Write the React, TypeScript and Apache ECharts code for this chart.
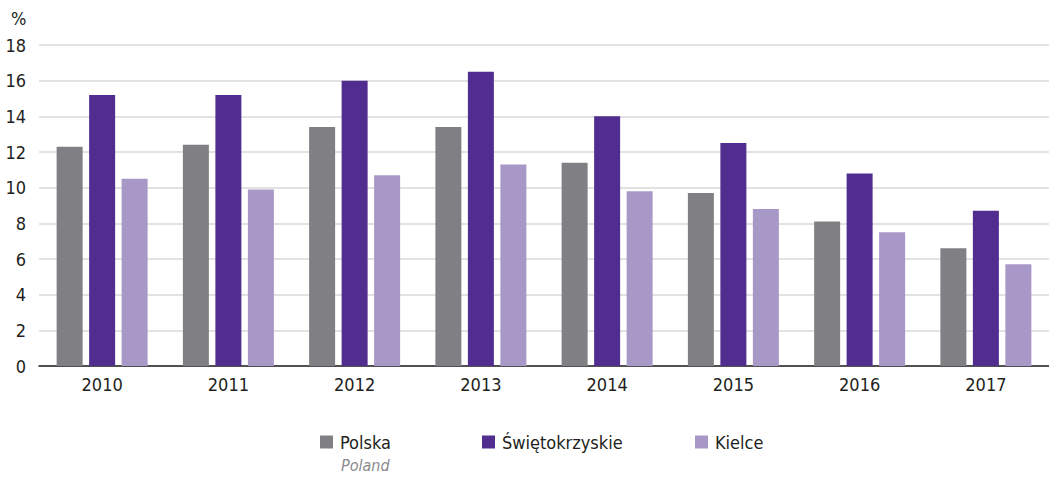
import React, { useEffect, useRef } from "react";
import * as echarts from "echarts";

const years = ["2010", "2011", "2012", "2013", "2014", "2015", "2016", "2017"];
const polska = [12.3, 12.4, 13.4, 13.4, 11.4, 9.7, 8.1, 6.6];
const swietokrzyskie = [15.2, 15.2, 16.0, 16.5, 14.0, 12.5, 10.8, 8.7];
const kielce = [10.5, 9.9, 10.7, 11.3, 9.8, 8.8, 7.5, 5.7];

const FONT = "'Liberation Sans Narrow', 'DejaVu Sans Condensed', 'Open Sans', sans-serif";
const C_POL = "#808084";
const C_SWI = "#512d8f";
const C_KIE = "#a898c8";

export default function App() {
  const ref = useRef<HTMLDivElement>(null);
  useEffect(() => {
    document.body.style.margin = "0";
    const chart = echarts.init(ref.current!, null, { renderer: "svg" });
    const legendBase = {
      top: 433,
      itemWidth: 13,
      itemHeight: 13,
      icon: "rect",
      textStyle: { fontFamily: FONT, fontSize: 18, color: "#231f20", padding: [0, 0, 0, 2] },
      padding: 0,
      selectedMode: false,
    };
    chart.setOption({
      animation: false,
      textStyle: { fontFamily: FONT },
      grid: { left: 39, right: 0, top: 45, bottom: 112, containLabel: false },
      xAxis: {
        type: "category",
        data: years,
        axisLine: { lineStyle: { color: "#231f20", width: 1.5 } },
        axisTick: { show: false },
        axisLabel: { fontFamily: FONT, fontSize: 18, color: "#231f20", margin: 9 },
      },
      yAxis: {
        type: "value",
        min: 0,
        max: 18,
        interval: 2,
        axisLine: { show: false },
        axisTick: { show: false },
        splitLine: { lineStyle: { color: "#d9d9d9", width: 1.5 } },
        axisLabel: { fontFamily: FONT, fontSize: 18, color: "#231f20", margin: 13 },
      },
      legend: [
        { ...legendBase, left: 320, data: ["Polska"] },
        { ...legendBase, left: 482, data: ["Świętokrzyskie"] },
        { ...legendBase, left: 695, data: ["Kielce"] },
      ],
      graphic: [
        {
          type: "text",
          left: 11,
          top: 9,
          style: { text: "%", fontFamily: FONT, fontSize: 18, fill: "#231f20" },
        },
        {
          type: "text",
          left: 341,
          top: 457,
          style: { text: "Poland", fontFamily: FONT, fontStyle: "italic", fontSize: 16, fill: "#8a8a8e" },
        },
      ],
      series: [
        { name: "Polska", type: "bar", data: polska, barWidth: 26, barGap: "25%", itemStyle: { color: C_POL } },
        { name: "Świętokrzyskie", type: "bar", data: swietokrzyskie, barWidth: 26, barGap: "25%", itemStyle: { color: C_SWI } },
        { name: "Kielce", type: "bar", data: kielce, barWidth: 26, barGap: "25%", itemStyle: { color: C_KIE } },
      ],
    });
    return () => chart.dispose();
  }, []);
  return <div ref={ref} style={{ width: 1049, height: 478 }} />;
}
